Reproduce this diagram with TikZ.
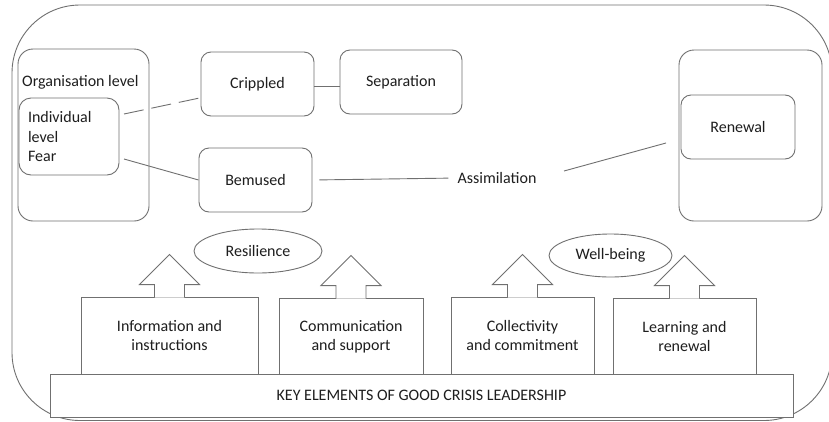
\documentclass[tikz,border=0pt]{standalone}
\usepackage{fontspec}
\setmainfont{Carlito}
\usetikzlibrary{calc,shapes.geometric}
\definecolor{lc}{HTML}{707070}
\definecolor{tc}{HTML}{1E1E1E}
\tikzset{
  every node/.style={font=\fontsize{16}{19.5}\selectfont, text=tc},
  rbox/.style={draw=lc, line width=0.9pt, rounded corners=10pt, inner sep=0pt, align=center},
  bigbox/.style={draw=lc, line width=0.9pt, rounded corners=15pt, inner sep=0pt},
  sqbox/.style={draw=lc, line width=0.9pt, inner sep=0pt, align=center},
  oval/.style={draw=lc, line width=0.9pt, ellipse, inner sep=0pt},
  conn/.style={draw=lc, line width=0.9pt},
  dashconn/.style={draw=lc, line width=0.9pt, dash pattern=on 20pt off 8pt},
  uparrowstyle/.style={fill=white, draw=lc, line width=0.9pt, line join=miter},
}
\newcommand\myuparrow[1]{%
  \path[uparrowstyle] ($(#1.north)+(-15,1)$) -- ($(#1.north)+(-15,-12)$) -- ($(#1.north)+(-30,-12)$)
    -- ($(#1.north)+(0,-42)$) -- ($(#1.north)+(30,-12)$) -- ($(#1.north)+(15,-12)$) -- ($(#1.north)+(15,1)$);}
\begin{document}
\begin{tikzpicture}[x=1pt,y=-1pt]
\path[use as bounding box, clip] (0,0) rectangle (829,421);
\fill[white] (0,0) rectangle (829,421);
% outer frame
\draw[lc, line width=0.9pt, rounded corners=68pt] (12,5) rectangle (832,420.5);
% left group
\node[bigbox, minimum width=131pt, minimum height=172pt] (org) at (83.5,135) {};
\node[anchor=west, inner sep=0pt] (orglabel) at (22,82) {Organisation level};
\node[rbox, minimum width=100pt, minimum height=77pt, text width=82pt, align=left, rounded corners=12pt] (indiv) at (69,136.5) {Individual\\level\\Fear};
% middle boxes
\node[rbox, minimum width=113pt, minimum height=64pt] (crippled) at (257.5,84) {Crippled};
\node[rbox, minimum width=122pt, minimum height=64pt] (separation) at (401,82) {Separation};
\node[rbox, minimum width=113pt, minimum height=64pt] (bemused) at (255.5,180) {Bemused};
\node[inner sep=0pt] (assim) at (497,178) {Assimilation};
% renewal
\node[bigbox, minimum width=143pt, minimum height=171pt] (renout) at (750.5,135.5) {};
\node[rbox, minimum width=114pt, minimum height=64pt] (renewal) at (738,127) {Renewal};
% connectors
\coordinate (d1) at (124,114);
\coordinate (d2) at (124,159);
\coordinate (a1) at (564,171);
\coordinate (a2) at (666,143);
\draw[dashconn] (d1) -- ($(crippled.west)+(-1,14)$);
\draw[conn] (d2) -- (bemused.west);
\draw[conn] ($(crippled.east)+(0,2)$) -- ($(separation.west)+(0,4)$);
\draw[conn, shorten <=7pt, shorten >=9pt] (bemused.east) -- (assim.west);
\draw[conn] (a1) -- (a2);
% ellipses
\node[oval, minimum width=128pt, minimum height=44pt] (resil) at (258,251) {Resilience};
\node[oval, minimum width=123pt, minimum height=43pt] (wellb) at (610.5,255.5) {Well-being};
% bottom boxes
\node[sqbox, minimum width=177pt, minimum height=77pt] (b1) at (169.5,335.5) {Information and\\instructions};
\node[sqbox, minimum width=144pt, minimum height=77pt] (b2) at (351,336.5) {Communication\\and support};
\node[sqbox, minimum width=143pt, minimum height=77pt] (b3) at (522.5,335.5) {Collectivity\\and commitment};
\node[sqbox, minimum width=143pt, minimum height=77pt] (b4) at (684.5,336.5) {Learning and\\renewal};
\myuparrow{b1}
\myuparrow{b2}
\myuparrow{b3}
\myuparrow{b4}
\node[sqbox, minimum width=743pt, minimum height=43pt, fill=white] (key) at (421.5,395.5) {KEY ELEMENTS OF GOOD CRISIS LEADERSHIP};
\end{tikzpicture}
\end{document}
